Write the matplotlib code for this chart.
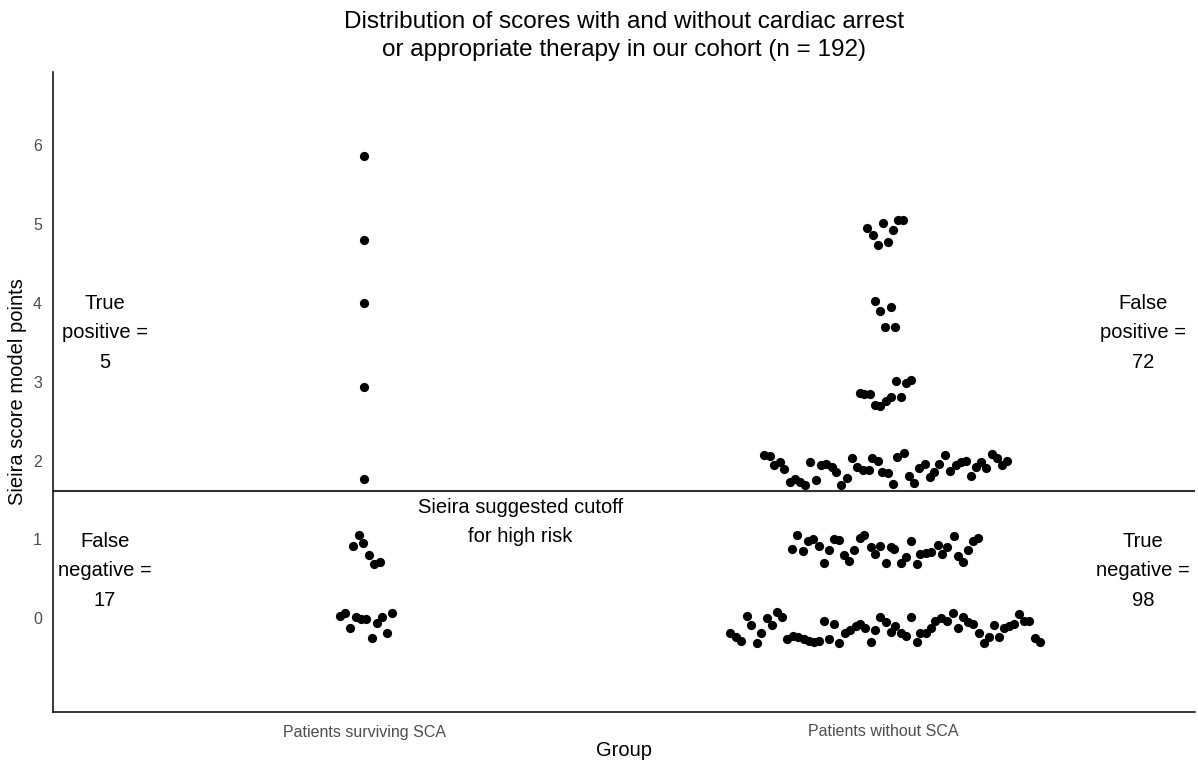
import numpy as np
import matplotlib
matplotlib.use("Agg")
import matplotlib.pyplot as plt

plt.rcParams['font.family'] = ['Liberation Sans', 'DejaVu Sans']

# groups on the x axis
groups = ["Patients surviving SCA", "Patients without SCA"]

# patients surviving SCA: jitter offset from group centre, jittered score
sca_dx = [0.00, 0.00, 0.00, 0.00, 0.00,
          -0.011, -0.023, -0.002, 0.008, 0.018, 0.029,
          -0.047, -0.037, -0.027, -0.016, -0.006, 0.003, 0.014, 0.024, 0.033, 0.043, 0.053]
sca_y = [5.86, 4.80, 4.00, 2.93, 1.76,
         1.06, 0.92, 0.96, 0.80, 0.69, 0.71,
         0.03, 0.06, -0.13, 0.01, -0.01, -0.01, -0.25, -0.06, 0.02, -0.19, 0.07]

# patients without SCA, score 5 / 4 / 3
nosca_hi_dx = [-0.031, -0.002, -0.021, -0.011, 0.008, 0.019, 0.028, 0.038,
               -0.017, -0.006, 0.014, 0.003, 0.023,
               -0.046, -0.037, -0.026, -0.017, -0.006, 0.004, 0.014, 0.033, 0.024, 0.043, 0.053]
nosca_hi_y = [4.95, 5.01, 4.86, 4.74, 4.77, 4.93, 5.05, 5.05,
              4.03, 3.90, 3.95, 3.70, 3.70,
              2.86, 2.85, 2.84, 2.70, 2.69, 2.75, 2.81, 2.81, 3.01, 2.98, 3.02]

# patients without SCA, score 2
nosca_2_dx = [-0.231, -0.218, -0.211, -0.200, -0.191, -0.180, -0.170, -0.160, -0.151, -0.141,
              -0.131, -0.120, -0.110, -0.099, -0.091, -0.081, -0.071, -0.060, -0.051, -0.039,
              -0.028, -0.022, -0.011, -0.003, 0.008, 0.019, 0.026, 0.039, 0.049, 0.058,
              0.068, 0.079, 0.089, 0.097, 0.107, 0.118, 0.128, 0.139, 0.149, 0.158,
              0.168, 0.178, 0.187, 0.197, 0.208, 0.218, 0.228, 0.237]
nosca_2_y = [2.07, 2.06, 1.94, 1.98, 1.89, 1.73, 1.77, 1.73, 1.69, 1.98,
             1.75, 1.95, 1.96, 1.92, 1.86, 1.69, 1.78, 2.03, 1.92, 1.88,
             1.88, 2.03, 2.00, 1.86, 1.84, 1.70, 2.05, 2.09, 1.81, 1.71,
             1.90, 1.96, 1.79, 1.86, 1.96, 2.07, 1.87, 1.94, 1.98, 2.00,
             1.80, 1.92, 1.98, 1.91, 2.08, 2.03, 1.94, 2.00]

# patients without SCA, score 1
nosca_1_dx = [-0.167, -0.176, -0.155, -0.146, -0.136, -0.125, -0.115, -0.106, -0.096, -0.086,
              -0.077, -0.066, -0.056, -0.046, -0.037, -0.025, -0.016, -0.006, 0.004, 0.014,
              0.020, 0.034, 0.043, 0.053, 0.064, 0.071, 0.081, 0.092, 0.104, 0.113,
              0.123, 0.135, 0.143, 0.153, 0.163, 0.173, 0.182]
nosca_1_y = [1.05, 0.88, 0.85, 0.98, 1.01, 0.91, 0.70, 0.87, 1.00, 0.99,
             0.80, 0.73, 0.87, 1.02, 1.06, 0.90, 0.81, 0.91, 0.70, 0.90,
             0.88, 0.70, 0.78, 0.98, 0.69, 0.82, 0.83, 0.84, 0.93, 0.81,
             0.90, 1.04, 0.79, 0.71, 0.86, 0.98, 1.02]

# patients without SCA, score 0
nosca_0_dx = [-0.295, -0.284, -0.275, -0.264, -0.255, -0.244, -0.236, -0.225, -0.215, -0.205,
              -0.195, -0.186, -0.174, -0.164, -0.154, -0.144, -0.134, -0.125, -0.115, -0.106,
              -0.096, -0.086, -0.075, -0.065, -0.054, -0.046, -0.036, -0.025, -0.017, -0.006,
              0.004, 0.014, 0.023, 0.033, 0.044, 0.053, 0.064, 0.071, 0.081, 0.091,
              0.100, 0.110, 0.123, 0.134, 0.143, 0.154, 0.163, 0.173, 0.183, 0.193,
              0.203, 0.213, 0.223, 0.232, 0.242, 0.252, 0.261, 0.271, 0.281, 0.292, 0.302]
nosca_0_y = [-0.19, -0.24, -0.29, 0.03, -0.08, -0.31, -0.19, 0.00, -0.08, 0.08,
             0.01, -0.26, -0.22, -0.24, -0.26, -0.29, -0.30, -0.29, -0.04, -0.27,
             -0.07, -0.31, -0.19, -0.15, -0.10, -0.07, -0.13, -0.30, -0.15, 0.02,
             -0.05, -0.17, -0.10, -0.19, -0.23, 0.02, -0.30, -0.19, -0.19, -0.13,
             -0.04, 0.00, -0.03, 0.06, -0.13, 0.01, -0.05, -0.07, -0.19, -0.31,
             -0.24, -0.08, -0.24, -0.13, -0.10, -0.07, 0.05, -0.03, -0.03, -0.25, -0.30]

cutoff = 1.62
labels = ["True\npositive =\n5", "False\npositive =\n72",
          "False\nnegative =\n17", "True\nnegative =\n98"]
label_x = [0.5, 2.5, 0.5, 2.5]
label_y = [3.62, 3.62, 0.60, 0.60]

W, H = 1198, 762
fig = plt.figure(figsize=(W / 100, H / 100), dpi=100)
ax = fig.add_axes([53 / W, 1 - 712 / H, (1195 - 53) / W, (712 - 72) / H])

x1 = 1 + np.array(sca_dx)
ax.scatter(x1, sca_y, s=44, color='black', linewidths=0, zorder=3)
x2 = 2 + np.array(nosca_hi_dx + nosca_2_dx + nosca_1_dx + nosca_0_dx)
y2 = np.array(nosca_hi_y + nosca_2_y + nosca_1_y + nosca_0_y)
ax.scatter(x2, y2, s=44, color='black', linewidths=0, zorder=3)

ax.axhline(cutoff, color='#333333', lw=1.5, zorder=2)

for t, lx, ly in zip(labels, label_x, label_y):
    ax.text(lx, ly, t, ha='center', va='center', fontsize=14.5, linespacing=1.68)
ax.text(1.3, 1.22, "Sieira suggested cutoff\nfor high risk", ha='center', va='center',
        fontsize=14.5, linespacing=1.68)

ax.set_xlim(0.4, 2.6)
ax.set_ylim(-1.19, 6.93)
ax.set_xticks([1, 2])
ax.set_xticklabels(groups)
ax.set_yticks(range(0, 7))
ax.tick_params(length=0, labelsize=11.5, labelcolor='#4D4D4D')
ax.tick_params(axis='x', pad=9)
ax.tick_params(axis='y', pad=8)
for s in ['top', 'right']:
    ax.spines[s].set_visible(False)
for s in ['left', 'bottom']:
    ax.spines[s].set_linewidth(1.1)
    ax.spines[s].set_color('black')

ax.set_xlabel("Group", fontsize=14.5)
ax.set_ylabel("Sieira score model points", fontsize=14.5)
ax.xaxis.set_label_coords(0.5, -(750 - 712) / (712 - 72), transform=ax.transAxes)
ax.yaxis.set_label_coords(-(53 - 18) / (1195 - 53), 0.5)
ax.xaxis.label.set_va('center')
ax.yaxis.label.set_va('center')

fig.text(624 / W, 1 - 36 / H,
         "Distribution of scores with and without cardiac arrest\nor appropriate therapy in our cohort (n = 192)",
         ha='center', va='center', fontsize=17.5, linespacing=1.35)

fig.savefig("out.png", dpi=100)
